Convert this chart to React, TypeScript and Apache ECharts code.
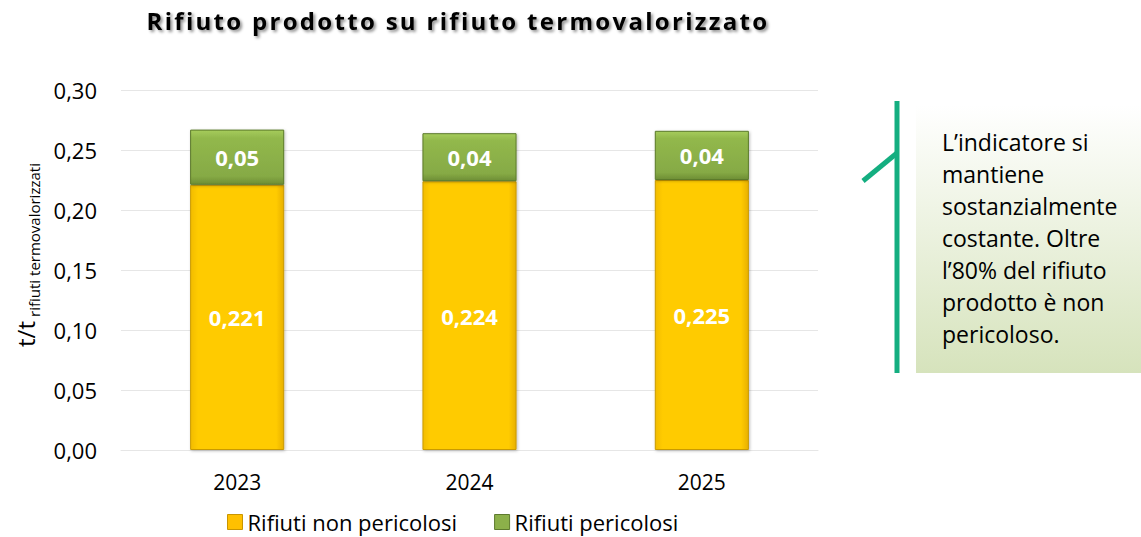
import React, { useEffect, useRef } from "react";
import * as echarts from "echarts";

const categories = ["2023", "2024", "2025"];
const nonPericolosi = [0.221, 0.224, 0.225];
const pericolosi = [0.046, 0.04, 0.041];
const yTicks = { min: 0, max: 0.3, interval: 0.05 };
const seriesNames = ["Rifiuti non pericolosi", "Rifiuti pericolosi"];
const titleText = "Rifiuto prodotto su rifiuto termovalorizzato";
const noteLines = [
  "L\u2019indicatore si",
  "mantiene",
  "sostanzialmente",
  "costante. Oltre",
  "l\u201980% del rifiuto",
  "prodotto \u00e8 non",
  "pericoloso.",
];

const FONT = "'Open Sans', sans-serif";

export default function App() {
  const ref = useRef<HTMLDivElement>(null);
  useEffect(() => {
    document.body.style.margin = "0";
    const chart = echarts.init(ref.current!, null, { renderer: "svg" });
    const fmt = (v: number, d: number) => v.toFixed(d).replace(".", ",");
    const yellow = {
      type: "linear", x: 0, y: 0, x2: 1, y2: 0,
      colorStops: [
        { offset: 0, color: "#F2BC00" },
        { offset: 0.08, color: "#FFCB05" },
        { offset: 0.92, color: "#FFCB05" },
        { offset: 1, color: "#E8B000" },
      ],
    };
    const green = {
      type: "linear", x: 0, y: 0, x2: 0, y2: 1,
      colorStops: [
        { offset: 0, color: "#A6CC5C" },
        { offset: 0.15, color: "#92B84C" },
        { offset: 0.85, color: "#86AA45" },
        { offset: 1, color: "#6E8E35" },
      ],
    };
    const shadow = {
      shadowColor: "rgba(0,0,0,0.25)",
      shadowBlur: 3,
      shadowOffsetX: 1,
      shadowOffsetY: 1,
    };
    chart.setOption({
      animation: false,
      textStyle: { fontFamily: FONT },
      grid: { left: 121, right: 323, top: 90, bottom: 87, containLabel: false },
      legend: {
        left: 227,
        top: 511,
        padding: 0,
        itemWidth: 15,
        itemHeight: 15,
        itemGap: 37,
        icon: "rect",
        textStyle: { fontSize: 22, color: "#000", fontFamily: FONT },
        data: [
          { name: seriesNames[0], itemStyle: { color: "#FFC000", borderColor: "#C99500", borderWidth: 1 } },
          { name: seriesNames[1], itemStyle: { color: "#8CB04A", borderColor: "#5E7A2E", borderWidth: 1 } },
        ],
      },
      xAxis: {
        type: "category",
        data: categories,
        axisLine: { show: true, lineStyle: { color: "#E6E6E6", width: 1 } },
        axisTick: { show: false },
        axisLabel: { fontSize: 21, color: "#000", margin: 21, fontFamily: FONT },
      },
      yAxis: {
        type: "value",
        min: yTicks.min,
        max: yTicks.max,
        interval: yTicks.interval,
        axisLine: { show: false },
        axisTick: { show: false },
        splitLine: { lineStyle: { color: "#E6E6E6", width: 1 } },
        axisLabel: {
          fontSize: 22,
          color: "#000",
          margin: 24,
          fontFamily: FONT,
          formatter: (v: number) => fmt(v, 2),
        },
      },
      series: [
        {
          name: seriesNames[0],
          type: "bar",
          stack: "tot",
          barWidth: "40.5%",
          data: nonPericolosi,
          itemStyle: { color: yellow, borderColor: "#C99A00", borderWidth: 1, ...shadow },
          label: {
            show: true,
            position: "inside",
            color: "#fff",
            fontWeight: "bold",
            fontSize: 22,
            fontFamily: FONT,
            formatter: (p: any) => fmt(p.value, 3),
          },
        },
        {
          name: seriesNames[1],
          type: "bar",
          stack: "tot",
          data: pericolosi,
          itemStyle: { color: green, borderColor: "#5B7A2A", borderWidth: 1, ...shadow },
          label: {
            show: true,
            position: "inside",
            color: "#fff",
            fontWeight: "bold",
            fontSize: 22,
            fontFamily: FONT,
            formatter: (p: any) => fmt(p.value, 2),
          },
        },
      ],
      graphic: [
        {
          type: "text",
          x: 458,
          y: 20,
          style: {
            text: titleText,
            align: "center",
            verticalAlign: "middle",
            fontSize: 24,
            fontWeight: "bold",
            fontFamily: FONT,
            fill: "#000",
            textShadowColor: "rgba(0,0,0,0.45)",
            textShadowBlur: 3,
            textShadowOffsetX: 2,
            textShadowOffsetY: 2,
          },
        },
        {
          type: "text",
          x: 25,
          y: 334,
          rotation: Math.PI / 2,
          style: {
            text: "t/t",
            align: "center",
            verticalAlign: "middle",
            fontSize: 24,
            fontFamily: FONT,
            fill: "#000",
          },
        },
        {
          type: "text",
          x: 34,
          y: 240,
          rotation: Math.PI / 2,
          style: {
            text: "rifiuti termovalorizzati",
            align: "center",
            verticalAlign: "middle",
            fontSize: 15,
            fontFamily: FONT,
            fill: "#000",
          },
        },
        {
          type: "rect",
          shape: { x: 916, y: 105, width: 225, height: 268 },
          style: {
            fill: {
              type: "linear", x: 0, y: 0, x2: 0, y2: 1,
              colorStops: [
                { offset: 0, color: "#FFFFFF" },
                { offset: 1, color: "#D6E3BC" },
              ],
            },
          },
        },
        {
          type: "line",
          shape: { x1: 897, y1: 101, x2: 897, y2: 373 },
          style: { stroke: "#14AE80", lineWidth: 5 },
        },
        {
          type: "line",
          shape: { x1: 863, y1: 181, x2: 897, y2: 153 },
          style: { stroke: "#14AE80", lineWidth: 5 },
        },
        {
          type: "text",
          x: 942,
          y: 126,
          style: {
            text: noteLines.join("\n"),
            align: "left",
            verticalAlign: "top",
            fontSize: 23,
            lineHeight: 32,
            fontFamily: FONT,
            fill: "#000",
          },
        },
      ],
    });
    const spaceTitle = () => {
      const el = ref.current;
      if (!el) return;
      el.querySelectorAll("text").forEach((t) => {
        if (t.textContent === titleText) {
          t.setAttribute("letter-spacing", "2.3");
          (t as SVGTextElement).style.letterSpacing = "2.3px";
        }
      });
    };
    spaceTitle();
    chart.on("finished", spaceTitle);
    return () => chart.dispose();
  }, []);
  return <div ref={ref} style={{ width: 1141, height: 537 }} />;
}
